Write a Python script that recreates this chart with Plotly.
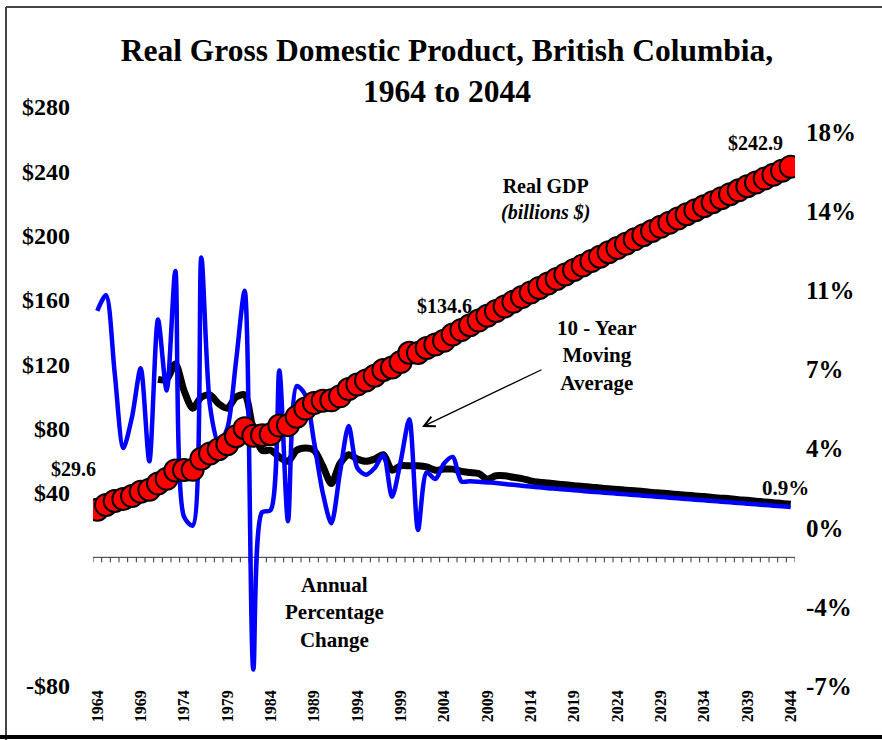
import plotly.graph_objects as go

# ---------------- data ----------------
years = list(range(1964, 2045))

gdp_billions = [
    29.6, 32.6, 35.0, 36.3, 38.1, 40.8, 42.0, 45.9, 48.8, 54.0,
    54.3, 54.4, 61.3, 64.6, 67.2, 70.3, 75.3, 80.3, 75.6, 75.9,
    76.6, 81.9, 82.2, 87.4, 92.5, 95.9, 97.4, 97.6, 100.1, 104.6,
    107.4, 110.0, 112.9, 116.5, 118.0, 121.4, 127.2, 127.1, 130.2, 132.3,
    134.6, 138.5, 141.3, 144.3, 147.2, 150.2, 153.1, 156.0, 158.9, 161.8,
    164.7, 167.5, 170.3, 173.1, 175.9, 178.7, 181.5, 184.2, 186.9, 189.7,
    192.3, 195.0, 197.7, 200.3, 202.9, 205.5, 208.1, 210.7, 213.3, 215.8,
    218.3, 220.8, 223.3, 225.8, 228.2, 230.7, 233.1, 235.5, 237.9, 240.4,
    242.9,
]

annual_pct_change = [
    9.8, 10.5, 7.0, 3.6, 5.0, 7.2, 3.0, 9.4, 6.2, 11.6,
    0.5, 0.1, 12.2, 5.5, 3.8, 4.5, 7.5, 10.7, -6.4, 0.7,
    0.8, 7.1, 0.3, 6.4, 6.0, 3.9, 1.6, 0.2, 2.5, 4.6,
    2.7, 2.4, 2.7, 3.3, 1.4, 3.0, 4.9, -0.1, 2.5, 2.2,
    2.9, 3.2, 2.1, 2.10, 2.08, 2.05, 2.02, 1.98, 1.94, 1.90,
    1.86, 1.83, 1.79, 1.76, 1.73, 1.70, 1.66, 1.63, 1.60, 1.57,
    1.54, 1.51, 1.48, 1.45, 1.42, 1.39, 1.36, 1.33, 1.30, 1.27,
    1.24, 1.21, 1.18, 1.15, 1.12, 1.09, 1.06, 1.03, 1.00, 0.97,
    0.94,
]

moving_avg_10yr = [
    None, None, None, None, None, None, None, 6.7, 6.7, 7.4,
    6.2, 5.4, 5.9, 6.0, 5.6, 5.4, 5.9, 6.0, 4.4, 3.5,
    3.5, 3.2, 3.0, 3.5, 3.6, 3.5, 2.8, 2.0, 2.9, 3.3,
    3.1, 3.0, 3.1, 3.3, 2.6, 2.8, 2.8, 2.8, 2.75, 2.6,
    2.65, 2.65, 2.55, 2.5, 2.45, 2.2, 2.35, 2.35, 2.28, 2.22,
    2.12, 2.06, 2.02, 1.98, 1.94, 1.90, 1.87, 1.83, 1.80, 1.76,
    1.73, 1.70, 1.67, 1.64, 1.60, 1.57, 1.54, 1.50, 1.47, 1.44,
    1.41, 1.37, 1.34, 1.31, 1.27, 1.24, 1.20, 1.17, 1.13, 1.10,
    1.06,
]

x_tick_years = [1964, 1969, 1974, 1979, 1984, 1989, 1994, 1999, 2004,
                2009, 2014, 2019, 2024, 2029, 2034, 2039, 2044]
x_tick_text = ["1964", "1969", "1974", "1979", "1984", "1989", "1994", "1999", "2004",
               "2009", "2014", "2019", "2024", "2029", "2034", "2039", "2044"]

left_tick_vals = [-80, 40, 80, 120, 160, 200, 240, 280]
left_tick_text = ["-$80", "$40", "$80", "$120", "$160", "$200", "$240", "$280"]

right_tick_vals = [-7.143, -3.571, 0, 3.571, 7.143, 10.714, 14.286, 17.857]
right_tick_text = ["-7%", "-4%", "0%", "4%", "7%", "11%", "14%", "18%"]

# ---------------- layout geometry ----------------
W, H = 882, 740
L, R, T, B = 93, 795, 107, 686


def px(x):
    return (x - L) / (R - L)


def py(y):
    return (B - y) / (B - T)


SERIF = "Liberation Serif, 'Times New Roman', serif"


def bold(size):
    return dict(family=SERIF, size=size, color="black", weight="bold")


fig = go.Figure()

fig.add_trace(go.Scatter(
    x=years, y=moving_avg_10yr, mode="lines", yaxis="y",
    line=dict(color="black", width=7, shape="spline", smoothing=0.8),
    hoverinfo="skip", showlegend=False,
))
fig.add_trace(go.Scatter(
    x=years, y=annual_pct_change, mode="lines", yaxis="y",
    line=dict(color="#0000FF", width=4.5, shape="spline", smoothing=0.8),
    hoverinfo="skip", showlegend=False,
))
fig.add_trace(go.Scatter(
    x=years, y=gdp_billions, mode="markers", yaxis="y2",
    marker=dict(size=22, color="#FF0000", line=dict(color="black", width=2)),
    hoverinfo="skip", showlegend=False,
))

shapes = []
# category axis line at $0 with tick marks between categories
shapes.append(dict(type="line", xref="x", yref="y2", x0=years[0] - 0.5, x1=years[-1] + 0.5,
                   y0=0, y1=0, line=dict(color="#333333", width=1), layer="below"))
for b in [yr - 0.5 for yr in years] + [years[-1] + 0.5]:
    shapes.append(dict(type="line", xref="x", yref="y2", ysizemode="pixel", yanchor=0,
                       x0=b, x1=b, y0=0, y1=-5, line=dict(color="#333333", width=1), layer="below"))
# outer frame
shapes.append(dict(type="line", xref="paper", yref="paper", x0=px(6), x1=px(900), y0=py(7), y1=py(7),
                   line=dict(color="#444444", width=2)))
shapes.append(dict(type="line", xref="paper", yref="paper", x0=px(6), x1=px(6), y0=py(7), y1=py(745),
                   line=dict(color="#444444", width=2)))
shapes.append(dict(type="line", xref="paper", yref="paper", x0=px(0), x1=px(900), y0=py(737), y1=py(737),
                   line=dict(color="black", width=4)))


def ann(text, x, y, size, **kw):
    d = dict(text=text, x=px(x), y=py(y), xref="paper", yref="paper", showarrow=False,
             font=bold(size), xanchor="center", yanchor="middle")
    d.update(kw)
    return d


annotations = [
    ann("$29.6", 73, 469, 20),
    ann("$134.6", 444, 306, 20),
    ann("$242.9", 755, 143, 20),
    ann("0.9%", 785, 488, 21),
    ann("Real GDP<br><i>(billions $)</i>", 545, 199, 20),
    ann("10 - Year<br>Moving<br>Average", 597, 355, 21),
    ann("Annual<br>Percentage<br>Change", 334, 612, 21),
    dict(text="", x=px(422), y=py(427), xref="paper", yref="paper", showarrow=True,
         ax=121, ay=-58, arrowhead=5, arrowsize=1.6, arrowwidth=1.3, arrowcolor="black",
         standoff=0, startstandoff=0),
]

fig.update_layout(
    width=W, height=H,
    margin=dict(l=L, r=W - R, t=T, b=H - B, pad=0),
    paper_bgcolor="white", plot_bgcolor="white",
    showlegend=False,
    title=dict(text="Real Gross Domestic Product, British Columbia,<br>1964 to 2044",
               x=447 / W, xanchor="center", xref="container",
               y=1 - 61 / H, yanchor="middle", yref="container",
               font=bold(31.5)),
    xaxis=dict(range=[years[0] - 0.5, years[-1] + 0.5], tickmode="array",
               tickvals=x_tick_years, ticktext=x_tick_text, tickangle=-90,
               showgrid=False, zeroline=False, showline=False, ticks="",
               tickfont=bold(16)),
    yaxis=dict(side="right", range=[-7.143, 19.0], tickmode="array",
               tickvals=right_tick_vals, ticktext=right_tick_text,
               showgrid=False, zeroline=False, showline=False, ticks="",
               tickfont=bold(25), ticklabelstandoff=10),
    yaxis2=dict(side="left", overlaying="y", range=[-80, 280], tickmode="array",
                tickvals=left_tick_vals, ticktext=left_tick_text,
                showgrid=False, zeroline=False, showline=False, ticks="",
                tickfont=bold(24), ticklabelstandoff=22),
    shapes=shapes,
    annotations=annotations,
)

fig.write_html("out.html", config={"displayModeBar": False},
               post_script="document.body.style.margin='0px';document.body.style.overflow='hidden';")
